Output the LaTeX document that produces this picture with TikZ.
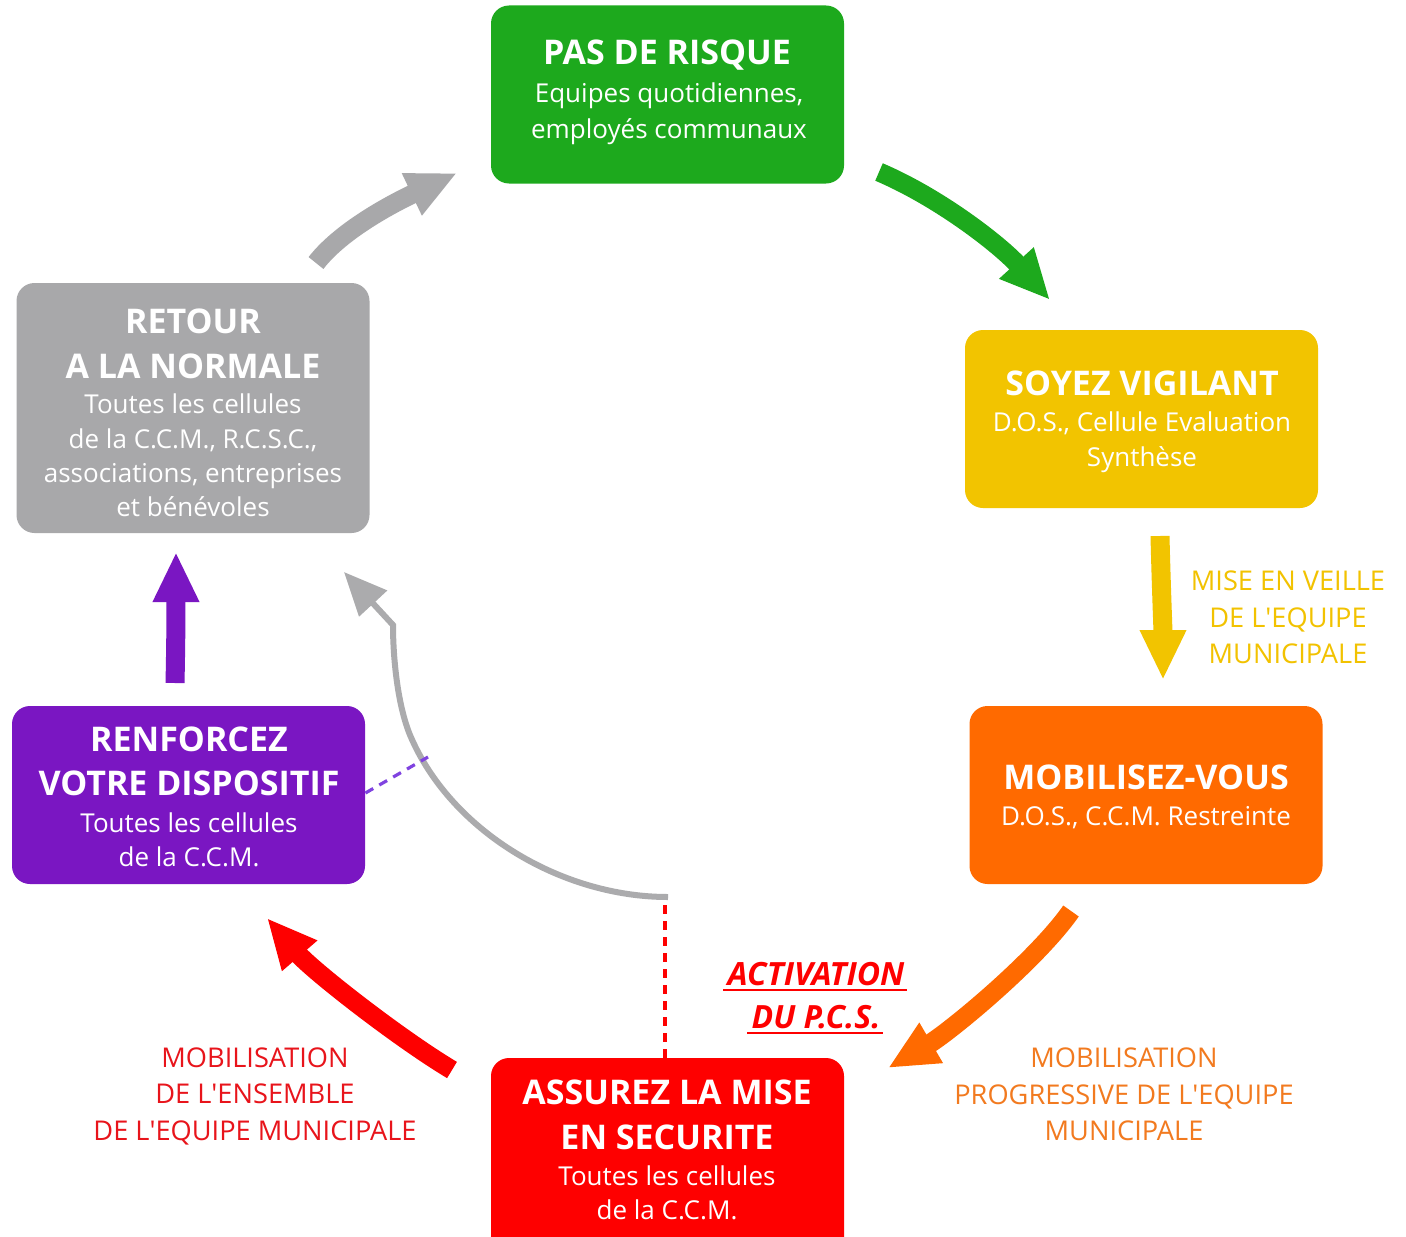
\documentclass[tikz,border=0pt]{standalone}
\usepackage{fontspec}
\setmainfont{Open Sans}
\usetikzlibrary{arrows.meta}
\definecolor{cgreen}{HTML}{1DA91D}
\definecolor{cyellow}{HTML}{F2C400}
\definecolor{corange}{HTML}{FF6A00}
\definecolor{cred}{HTML}{FE0000}
\definecolor{cpurple}{HTML}{7A16C2}
\definecolor{cgray}{HTML}{A8A8AA}
\definecolor{cgrayline}{HTML}{ABABAD}
\definecolor{cdash}{HTML}{8043E0}
\definecolor{lyellow}{HTML}{F2C200}
\definecolor{lorange}{HTML}{F27A1F}
\definecolor{lred}{HTML}{E8141B}
\newcommand\apo{\textquotesingle}
\begin{document}
\begin{tikzpicture}[x=0.5pt,y=-0.5pt,
  box/.style={rounded corners=9pt, inner sep=0pt, minimum width=176.5pt, minimum height=89pt},
  ttl/.style={font=\fontsize{17}{20}\selectfont\bfseries, text=white, anchor=base, inner sep=0pt},
  sub/.style={font=\fontsize{13}{16}\selectfont, text=white, anchor=base, inner sep=0pt},
  lbl/.style={font=\fontsize{13.6}{16}\selectfont, anchor=base, inner sep=0pt},
  act/.style={font=\fontsize{16}{19}\selectfont\bfseries\itshape, text=cred, anchor=base, inner sep=0pt},
  fat/.style={line width=9.5pt, -{Triangle[width=21.5pt,length=25pt]}},
  thin/.style={line width=3pt, -{Triangle[width=18.5pt,length=21.5pt]}},
  dsh/.style={line width=1.6pt, dash pattern=on 4.5pt off 3.5pt}]
\useasboundingbox (0,0) rectangle (1406,1236);
\fill[white] (0,0) rectangle (1406,1236);

% boxes
\node[box, fill=cgreen] (g) at (667.5,94.5) {};
\node[box, fill=cyellow] (y) at (1141.5,419) {};
\node[box, fill=corange] (o) at (1146,795) {};
\node[box, fill=cred, minimum height=101pt] (r) at (667.5,1159) {};
\node[box, fill=cpurple] (p) at (188.5,795) {};
\node[box, fill=cgray, minimum height=125pt] (n) at (193,408) {};

% texts green
\node[ttl] (g1) at (667,65) {PAS DE RISQUE};
\node[sub] (g2) at (669,103) {Equipes quotidiennes,};
\node[sub] (g3) at (669,138) {employés communaux};
% yellow
\node[ttl] (y1) at (1142,395) {SOYEZ VIGILANT};
\node[sub] (y2) at (1142,431) {D.O.S., Cellule Evaluation};
\node[sub] (y3) at (1142,466) {Synthèse};
% orange
\node[ttl] (o1) at (1146,789) {MOBILISEZ-VOUS};
\node[sub] (o2) at (1146,825) {D.O.S., C.C.M. Restreinte};
% red
\node[ttl] (r1) at (667,1104) {ASSUREZ LA MISE};
\node[ttl] (r2) at (667,1149) {EN SECURITE};
\node[sub] (r3) at (667,1185) {Toutes les cellules};
\node[sub] (r4) at (667,1219) {de la C.C.M.};
% purple
\node[ttl] (p1) at (189,751) {RENFORCEZ};
\node[ttl] (p2) at (189,795) {VOTRE DISPOSITIF};
\node[sub] (p3) at (189,832) {Toutes les cellules};
\node[sub] (p4) at (189,866) {de la C.C.M.};
% gray
\node[ttl] (n1) at (193,333) {RETOUR};
\node[ttl] (n2) at (193,378) {A LA NORMALE};
\node[sub] (n3) at (193,413) {Toutes les cellules};
\node[sub] (n4) at (193,448) {de la C.C.M., R.C.S.C.,};
\node[sub] (n5) at (193,482) {associations, entreprises};
\node[sub] (n6) at (193,516) {et bénévoles};

% side labels
\node[lbl, text=lyellow] (ly1) at (1288,590) {MISE EN VEILLE};
\node[lbl, text=lyellow] (ly2) at (1288,627) {DE L\apo EQUIPE};
\node[lbl, text=lyellow] (ly3) at (1288,663) {MUNICIPALE};
\node[lbl, text=lorange] (lo1) at (1124,1067) {MOBILISATION};
\node[lbl, text=lorange] (lo2) at (1124,1104) {PROGRESSIVE DE L\apo EQUIPE};
\node[lbl, text=lorange] (lo3) at (1124,1140) {MUNICIPALE};
\node[lbl, text=lred] (lr1) at (255,1067) {MOBILISATION};
\node[lbl, text=lred] (lr2) at (255,1103) {DE L\apo ENSEMBLE};
\node[lbl, text=lred] (lr3) at (255,1140) {DE L\apo EQUIPE MUNICIPALE};
\node[act] (a1) at (816,985) {ACTIVATION};
\node[act] (a2) at (816,1028) {DU P.C.S.};
\draw[cred, line width=1.3pt] ([xshift=-2pt,yshift=-2.5pt]a1.base west) -- ([xshift=1pt,yshift=-2.5pt]a1.base east);
\draw[cred, line width=1.3pt] ([xshift=-2pt,yshift=-2.5pt]a2.base west) -- ([xshift=1pt,yshift=-2.5pt]a2.base east);

% fat arrows
\coordinate (ga) at (316,263); \coordinate (gb) at (457,173);
\draw[fat, cgray] (ga) .. controls (343,228) and (400,200) .. (gb);
\coordinate (va) at (879,172); \coordinate (vb) at (1050,300);
\draw[fat, cgreen] (va) .. controls (940,198) and (1000,245) .. (vb);
\coordinate (ja) at (1160,536); \coordinate (jb) at (1163,680);
\draw[fat, cyellow] (ja) .. controls (1161,580) and (1163,630) .. (jb);
\coordinate (oa) at (1071,911); \coordinate (ob) at (888,1068);
\draw[fat, corange] (oa) .. controls (1036,961) and (948,1033) .. (ob);
\coordinate (ra) at (452,1070); \coordinate (rb) at (267,918);
\draw[fat, cred] (ra) .. controls (397,1037) and (312,970) .. (rb);
\coordinate (pa) at (175,683); \coordinate (pb) at (176,552);
\draw[fat, cpurple] (pa) .. controls (176,640) and (176,600) .. (pb);

% thin gray return curve
\coordinate (ca) at (668,897); \coordinate (cm) at (410,735); \coordinate (ck) at (393,625); \coordinate (cb) at (344,572);
\draw[thin, cgrayline] (ca) .. controls (560,897) and (450,830) .. (cm)
   .. controls (398,706) and (393,660) .. (ck) -- (cb);

% dashed lines
\coordinate (da) at (665,905);
\draw[dsh, cred] (da) -- (da |- r.north);
\coordinate (pd) at (428,757);
\draw[dsh, cdash] (p.east |- 0,793) -- (pd);
\end{tikzpicture}
\end{document}
